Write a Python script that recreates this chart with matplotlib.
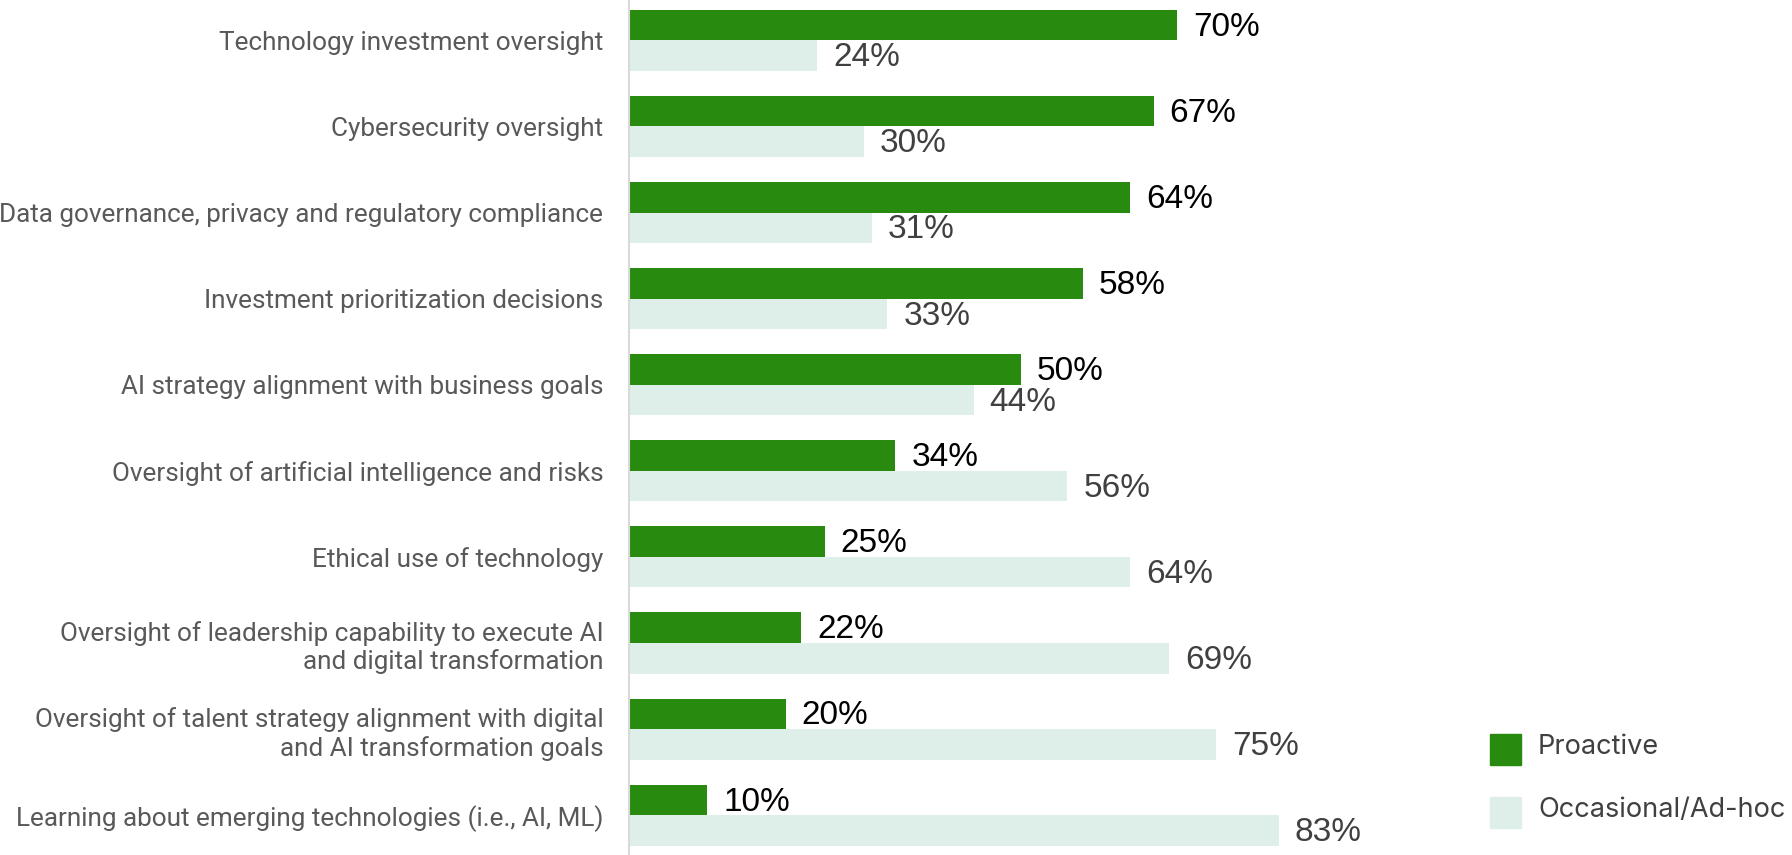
import matplotlib
matplotlib.use("Agg")
import matplotlib.pyplot as plt
from matplotlib.patches import Rectangle

categories = [
    "Technology investment oversight",
    "Cybersecurity oversight",
    "Data governance, privacy and regulatory compliance",
    "Investment prioritization decisions",
    "AI strategy alignment with business goals",
    "Oversight of artificial intelligence and risks",
    "Ethical use of technology",
    "Oversight of leadership capability to execute AI\nand digital transformation",
    "Oversight of talent strategy alignment with digital\nand AI transformation goals",
    "Learning about emerging technologies (i.e., AI, ML)",
]
proactive = [70, 67, 64, 58, 50, 34, 25, 22, 20, 10]
occasional = [24, 30, 31, 33, 44, 56, 64, 69, 75, 83]
series_names = ["Proactive", "Occasional/Ad-hoc"]
colors = ["#288A0E", "#DEEEE8"]
label_colors = ["#000000", "#404040"]

W, H = 1792, 855
fig = plt.figure(figsize=(W / 100, H / 100), dpi=100)
ax_left = 629 / W
ax = fig.add_axes([ax_left, 0, 1 - ax_left, 1])

bh = 0.355
pos = list(range(len(categories)))
y1 = [p - bh / 2 for p in pos]
y2 = [p + bh / 2 for p in pos]
ax.barh(y1, proactive, height=bh, color=colors[0], label=series_names[0])
ax.barh(y2, occasional, height=bh, color=colors[1], label=series_names[1])

px_per_unit = 7.83
xmax = (W - 629) / px_per_unit
ax.set_xlim(0, xmax)
ax.set_ylim(9.462, -0.468)

off = 16 / px_per_unit
dy = 0.025
for yy, v in zip(y1, proactive):
    ax.text(v + off, yy + dy, f"{v}%", va="center", ha="left", fontsize=24,
            color=label_colors[0], family=["Liberation Sans", "DejaVu Sans"])
for yy, v in zip(y2, occasional):
    ax.text(v + off, yy + dy, f"{v}%", va="center", ha="left", fontsize=24,
            color=label_colors[1], family=["Liberation Sans", "DejaVu Sans"])

for s in ["top", "right", "bottom"]:
    ax.spines[s].set_visible(False)
ax.spines["left"].set_color("#D9D9D9")
ax.spines["left"].set_linewidth(1.5)
ax.set_xticks([])
ax.set_yticks(pos)
ax.set_yticklabels(categories, fontsize=18.8, color="#595959",
                   family=["Roboto", "DejaVu Sans"],
                   linespacing=1.2)
ax.tick_params(axis="y", length=0, pad=18.5)

# legend
sq = 31
legend_items = [(1490, 734), (1490, 797)]
for (lx, ly), name, c in zip(legend_items, series_names, colors):
    fig.patches.append(Rectangle((lx / W, 1 - (ly + sq) / H), sq / W, sq / H,
                                 transform=fig.transFigure, color=c))
    fig.text((lx + 48) / W, 1 - (ly + sq / 2 - 3) / H, name, va="center", ha="left",
             fontsize=19.5, color="#404040", family=["Inter", "DejaVu Sans"])

fig.savefig("out.png", dpi=100)
